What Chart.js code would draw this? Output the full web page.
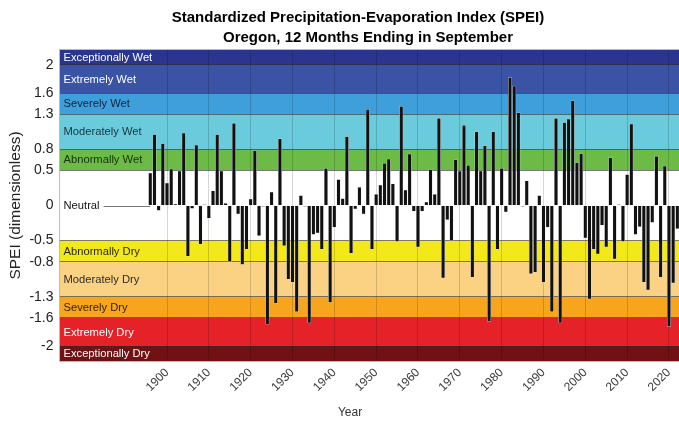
<!DOCTYPE html>
<html>
<head>
<meta charset="utf-8">
<script src="https://cdn.jsdelivr.net/npm/chart.js@4.4.1/dist/chart.umd.min.js"></script>
<style>
  html, body { margin: 0; padding: 0; background: #fff; overflow: hidden; }
</style>
</head>
<body>
<canvas id="speiChart" width="679" height="424"></canvas>
<script>
/* Oregon SPEI, 12 months ending in September */

const years = [
  1896, 1897, 1898, 1899, 1900, 1901, 1902, 1903, 1904, 1905,
  1906, 1907, 1908, 1909, 1910, 1911, 1912, 1913, 1914, 1915,
  1916, 1917, 1918, 1919, 1920, 1921, 1922, 1923, 1924, 1925,
  1926, 1927, 1928, 1929, 1930, 1931, 1932, 1933, 1934, 1935,
  1936, 1937, 1938, 1939, 1940, 1941, 1942, 1943, 1944, 1945,
  1946, 1947, 1948, 1949, 1950, 1951, 1952, 1953, 1954, 1955,
  1956, 1957, 1958, 1959, 1960, 1961, 1962, 1963, 1964, 1965,
  1966, 1967, 1968, 1969, 1970, 1971, 1972, 1973, 1974, 1975,
  1976, 1977, 1978, 1979, 1980, 1981, 1982, 1983, 1984, 1985,
  1986, 1987, 1988, 1989, 1990, 1991, 1992, 1993, 1994, 1995,
  1996, 1997, 1998, 1999, 2000, 2001, 2002, 2003, 2004, 2005,
  2006, 2007, 2008, 2009, 2010, 2011, 2012, 2013, 2014, 2015,
  2016, 2017, 2018, 2019, 2020, 2021, 2022,
];

const speiValues = [
  0.46, 1.01, -0.07, 0.88, 0.32, 0.52, 0.02, 0.49, 1.03, -0.72,
  -0.04, 0.86, -0.55, 0.01, -0.18, 0.21, 1.01, 0.49, 0.03, -0.80,
  1.17, -0.12, -0.84, -0.62, 0.09, 0.78, -0.43, -0.01, -1.69, 0.19,
  -1.39, 0.95, -0.57, -1.05, -1.09, -1.51, 0.14, -0.01, -1.67, -0.41,
  -0.39, -0.62, 0.53, -1.38, -0.31, 0.37, 0.10, 0.98, -0.68, -0.05,
  0.26, -0.12, 1.37, -0.62, 0.16, 0.29, 0.60, 0.66, 0.31, -0.51,
  1.41, 0.22, 0.73, -0.08, -0.59, -0.08, 0.05, 0.51, 0.16, 1.24,
  -1.03, -0.20, -0.50, 0.65, 0.49, 1.14, 0.57, -1.02, 1.05, 0.49,
  0.85, -1.65, 1.05, -0.62, 0.53, -0.09, 1.82, 1.70, 1.32, -0.01,
  0.35, -0.97, -0.95, 0.14, -1.09, -0.31, -1.51, 1.24, -1.67, 1.18,
  1.23, 1.49, 0.61, 0.74, -0.46, -1.33, -0.62, -0.69, -0.28, -0.59,
  0.68, -0.76, 0.01, -0.51, 0.44, 1.16, -0.41, -0.30, -1.09, -1.20,
  -0.24, 0.70, -1.02, 0.56, -1.72, -1.10, -0.33,
];

const bandNames = [
  'Exceptionally Wet', 'Extremely Wet', 'Severely Wet', 'Moderately Wet', 'Abnormally Wet',
  'Neutral',
  'Abnormally Dry', 'Moderately Dry', 'Severely Dry', 'Extremely Dry', 'Exceptionally Dry',
];
const bandTops = [2.22, 2, 1.6, 1.3, 0.8, 0.5, -0.5, -0.8, -1.3, -1.6, -2];
const bandBottoms = [2, 1.6, 1.3, 0.8, 0.5, -0.5, -0.8, -1.3, -1.6, -2, -2.22];

const yTicks = [2, 1.6, 1.3, 0.8, 0.5, 0, -0.5, -0.8, -1.3, -1.6, -2];
const xTicks = [1900, 1910, 1920, 1930, 1940, 1950, 1960, 1970, 1980, 1990, 2000, 2010, 2020];

const titleLines = ['Standardized Precipitation-Evaporation Index (SPEI)', 'Oregon, 12 Months Ending in September'];

// styles
const FONT = '"Liberation Sans", Arial, Helvetica, sans-serif';
const bandColors = [
  '#29358f', '#3a53a4', '#3f9fda', '#6acbdc', '#6cbb47',
  '#ffffff',
  '#f2e81a', '#fbd283', '#f8a51e', '#e42228', '#721114',
];
const bandTextColors = [
  '#ffffff', '#ffffff', '#14203d', '#173440', '#16300f',
  '#111111',
  '#2a2a10', '#2b2b2b', '#2b1e08', '#ffffff', '#ffffff',
];

const bandsPlugin = {
  id: 'speiBands',
  beforeDraw(chart) {
    const { ctx, chartArea: a } = chart;
    const y = chart.scales.y;
    ctx.save();
    ctx.fillStyle = '#fff';
    ctx.fillRect(0, 0, chart.width, chart.height);
    bandNames.forEach((name, i) => {
      const top = y.getPixelForValue(bandTops[i]);
      const bottom = y.getPixelForValue(bandBottoms[i]);
      ctx.fillStyle = bandColors[i];
      ctx.fillRect(a.left, top, a.right - a.left, bottom - top);
    });
    ctx.restore();
  },
  beforeDatasetsDraw(chart) {
    const { ctx, chartArea: a } = chart;
    const y = chart.scales.y;
    const x = chart.scales.x;
    ctx.save();
    ctx.font = '11.2px ' + FONT;
    ctx.textBaseline = 'middle';
    ctx.textAlign = 'left';
    bandNames.forEach((name, i) => {
      const mid = y.getPixelForValue((bandTops[i] + bandBottoms[i]) / 2);
      ctx.fillStyle = bandTextColors[i];
      ctx.fillText(name, a.left + 4, mid + 0.5);
    });
    // leader line from "Neutral" to the first bar
    const y0 = Math.round(y.getPixelForValue(0)) + 0.5;
    const textEnd = a.left + 4 + ctx.measureText('Neutral').width + 4;
    ctx.strokeStyle = '#777';
    ctx.lineWidth = 1;
    ctx.beginPath();
    ctx.moveTo(textEnd, y0);
    ctx.lineTo(x.getPixelForValue(years[0]), y0);
    ctx.stroke();
    ctx.restore();
  },
  afterDraw(chart) {
    const { ctx, chartArea: a } = chart;
    ctx.save();
    // top border of plot
    ctx.strokeStyle = '#bbb';
    ctx.lineWidth = 1;
    ctx.beginPath();
    ctx.moveTo(a.left, a.top);
    ctx.lineTo(a.right, a.top);
    ctx.stroke();
    // title
    ctx.fillStyle = '#000';
    ctx.textAlign = 'center';
    ctx.textBaseline = 'middle';
    ctx.font = 'bold 15px ' + FONT;
    ctx.fillText(titleLines[0], 358, 18);
    ctx.fillText(titleLines[1], 368, 37.5);
    // x axis title
    ctx.fillStyle = '#333';
    ctx.font = '12px ' + FONT;
    ctx.fillText('Year', 350, 413);
    ctx.restore();
  },
};

new Chart(document.getElementById('speiChart'), {
  type: 'bar',
  data: {
    datasets: [{
      data: years.map((yr, i) => ({ x: yr, y: speiValues[i] })),
      backgroundColor: '#111',
      borderColor: 'rgba(225,225,225,0.9)',
      borderWidth: 0.5,
      barThickness: 3.4,
    }],
  },
  options: {
    responsive: false,
    animation: false,
    layout: { padding: { top: 49.5, right: 0, bottom: 0, left: 0 } },
    plugins: { legend: { display: false }, tooltip: { enabled: false } },
    scales: {
      x: {
        type: 'linear',
        min: 1874.3,
        max: 2022.4,
        offset: false,
        afterBuildTicks: (s) => { s.ticks = xTicks.map((v) => ({ value: v })); },
        afterFit: (s) => { s.height = 62.5; s.paddingLeft = 0; s.paddingRight = 0; },
        ticks: {
          color: '#3a3a3a',
          font: { size: 12, family: FONT },
          minRotation: 45,
          maxRotation: 45,
          padding: 4,
          callback: (v) => String(v),
        },
        grid: { offset: false, drawTicks: false, color: 'rgba(0,0,0,0.16)', lineWidth: 1 },
        border: { display: true, color: '#bbb' },
      },
      y: {
        min: -2.22,
        max: 2.22,
        afterBuildTicks: (s) => { s.ticks = yTicks.map((v) => ({ value: v })); },
        afterFit: (s) => { s.width = 59.5; },
        ticks: {
          color: '#222',
          font: { size: 14, family: FONT },
          padding: 6,
          callback: (v) => String(v),
        },
        grid: {
          drawTicks: false,
          color: (c) => (c.tick && c.tick.value === 0 ? 'rgba(0,0,0,0)' : 'rgba(40,40,40,0.6)'),
          lineWidth: 1,
        },
        border: { display: true, color: '#bbb' },
        title: {
          display: true,
          text: 'SPEI (dimensionless)',
          color: '#222',
          font: { size: 15.5, family: FONT },
          padding: { top: 6, bottom: 0 },
        },
      },
    },
  },
  plugins: [bandsPlugin],
});
</script>
</body>
</html>
